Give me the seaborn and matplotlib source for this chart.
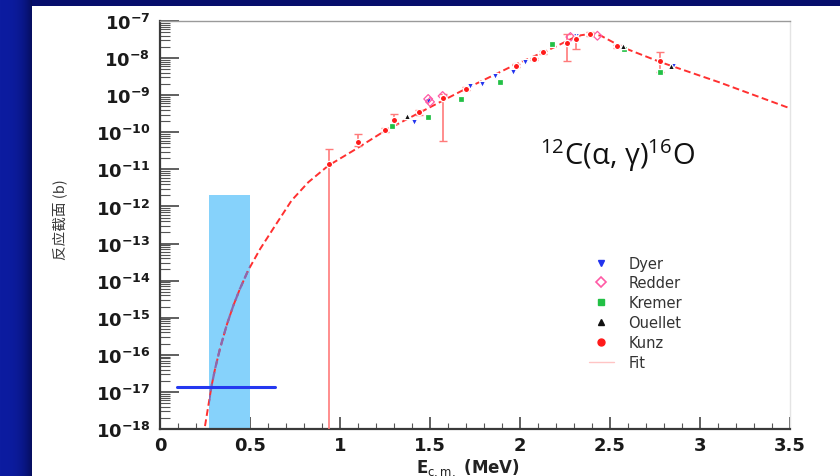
import numpy as np
import pandas as pd
import matplotlib
matplotlib.use("Agg")
import matplotlib.pyplot as plt
from matplotlib.lines import Line2D
from matplotlib.patches import Rectangle
from matplotlib.ticker import FixedLocator, MultipleLocator, NullFormatter, FuncFormatter
import seaborn as sns

# ---- fit curve (E_cm in MeV, cross section in barn) ----
fit_e = [0.25, 0.287, 0.306, 0.333, 0.37, 0.407, 0.444, 0.49, 0.556, 0.635, 0.731,
         0.824, 0.935, 1.083, 1.25, 1.406, 1.70, 1.98, 2.19, 2.32, 2.39, 2.45, 2.57,
         2.78, 3.11, 3.48, 3.50]
fit_sigma = [1.2e-18, 1.5e-17, 4.2e-17, 1.45e-16, 6.2e-16, 2.1e-15, 6.0e-15, 1.9e-14,
             7.1e-14, 2.8e-13, 1.45e-12, 4.5e-12, 1.26e-11, 3.4e-11, 1.1e-10, 2.75e-10,
             1.5e-9, 6.9e-9, 1.95e-8, 4.0e-8, 4.5e-8, 4.0e-8, 1.95e-8, 7.8e-9, 2.2e-9,
             4.8e-10, 4.5e-10]

# ---- measurements ----
dyer_e = [1.41, 1.49, 1.72, 1.79, 1.86, 1.96, 2.03, 2.12, 2.31, 2.85]
dyer_s = [1.9e-10, 6.9e-10, 1.8e-9, 2.0e-9, 3.3e-9, 4.3e-9, 7.9e-9, 1.45e-8, 4.0e-8, 6.3e-9]

redder_e = [1.49, 1.50, 1.57, 2.28, 2.43]
redder_s = [7.9e-10, 6.6e-10, 9.5e-10, 3.7e-8, 4.0e-8]

kremer_e = [1.29, 1.49, 1.67, 1.89, 2.08, 2.18, 2.58, 2.78]
kremer_s = [1.5e-10, 2.6e-10, 7.9e-10, 2.2e-9, 9.5e-9, 2.4e-8, 1.8e-8, 4.3e-9]

ouellet_e = [1.37, 1.57, 1.97, 2.31, 2.57, 2.84]
ouellet_s = [2.75e-10, 8.9e-10, 6.9e-9, 3.7e-8, 2.1e-8, 6.3e-9]

kunz_e = [0.94, 1.10, 1.25, 1.30, 1.44, 1.57, 1.70, 1.98, 2.08, 2.13, 2.26, 2.31, 2.39, 2.54, 2.78]
kunz_s = [1.4e-11, 5.5e-11, 1.15e-10, 2.2e-10, 3.5e-10, 8.5e-10, 1.5e-9, 6.3e-9, 9.5e-9,
          1.45e-8, 2.5e-8, 3.2e-8, 4.5e-8, 2.1e-8, 8.3e-9]
kunz_lo = [1e-19, 4.3e-11, 1.0e-10, 1.7e-10, 3.0e-10, 5.9e-11, 1.35e-9, 5.8e-9, 8.8e-9,
           1.3e-8, 8.3e-9, 1.8e-8, 4.0e-8, 1.9e-8, 4.3e-9]
kunz_hi = [3.5e-11, 8.9e-11, 1.3e-10, 3.2e-10, 4.0e-10, 1.07e-9, 1.65e-9, 6.8e-9, 1.02e-8,
           1.6e-8, 4.5e-8, 4.0e-8, 5.0e-8, 2.3e-8, 1.45e-8]

# Gamow window and the extrapolated value at 300 keV
gamow_lo, gamow_hi, gamow_top = 0.27, 0.50, 2.0e-12
extrap_sigma, extrap_e0, extrap_e1 = 1.35e-17, 0.095, 0.64

# axis ranges and decade ticks
e_min, e_max = 0.0, 3.5
decades = list(range(-18, -6))

series = [
    ("Dyer", dyer_e, dyer_s, dict(marker="v", color="#2233ee")),
    ("Redder", redder_e, redder_s, dict(marker="D", facecolor="none", edgecolor="#ff5aa5")),
    ("Kremer", kremer_e, kremer_s, dict(marker="s", color="#22c045")),
    ("Ouellet", ouellet_e, ouellet_s, dict(marker="^", color="#111111")),
    ("Kunz", kunz_e, kunz_s, dict(marker="o", color="#ff1a1a")),
]

sns.set_theme(style="ticks")
plt.rcParams["font.family"] = ["DejaVu Sans"]
plt.rcParams["mathtext.default"] = "regular"

W, H = 840, 477
fig = plt.figure(figsize=(W / 100, H / 100), dpi=100)

# slide background: blue frame with a white panel
bg = np.ones((H, W, 3))
bg[:7, :] = np.array([6, 14, 108]) / 255
left = np.linspace(0, 1, 32)[:, None]
c0 = np.array([12, 28, 160]) / 255
c1 = np.array([6, 14, 96]) / 255
bg[:, :32] = (c0 + (c1 - c0) * left ** 3)[None, :, :]
fig.figimage(bg, xo=0, yo=0, origin="upper", zorder=-10)

ax = fig.add_axes([160 / W, (H - 430) / H, 630 / W, 408 / H])
ax.set_zorder(5)
ax.set_facecolor("white")

ax.set_yscale("log")
ax.set_xlim(e_min, e_max)
ax.set_ylim(10.0 ** decades[0], 10.0 ** decades[-1])

# Gamow window
window = Rectangle((gamow_lo, 1e-19), gamow_hi - gamow_lo, gamow_top - 1e-19,
                   facecolor="#86d2fb", edgecolor="none", zorder=1)
ax.add_patch(window)

# fit curve (drawn red, and in a muted tone where it crosses the window)
fit_df = pd.DataFrame({"E": fit_e, "sigma": fit_sigma})
sns.lineplot(data=fit_df, x="E", y="sigma", ax=ax, color="#ff3030", lw=1.4,
             zorder=3, sort=False)
ax.lines[-1].set_dashes([3.5, 1.8])
sns.lineplot(data=fit_df, x="E", y="sigma", ax=ax, color="#8a68b0", lw=1.6,
             zorder=3.5, sort=False)
ax.lines[-1].set_dashes([3.5, 1.8])
ax.lines[-1].set_clip_path(window)

# Kunz error bars
ks = np.array(kunz_s)
ax.errorbar(kunz_e, kunz_s, yerr=[ks - np.array(kunz_lo), np.array(kunz_hi) - ks],
            fmt="none", ecolor="#ff7a7a", elinewidth=1.2, capsize=3, zorder=3)

for name, e, s, kw in series:
    df = pd.DataFrame({"E": e, "sigma": s})
    sns.scatterplot(data=df, x="E", y="sigma", ax=ax, s=20, linewidth=0.9,
                    zorder=4, legend=False, **kw)

# extrapolated value
ax.plot([extrap_e0, extrap_e1], [extrap_sigma, extrap_sigma], color="#2438f0", lw=2.2, zorder=5)

ax.set_xlim(e_min, e_max)
ax.set_ylim(10.0 ** decades[0], 10.0 ** decades[-1])

# ticks limited to the visible range
major_e = np.arange(0, 8) * 0.5
minor_e = np.arange(0, 36) * 0.1
ax.xaxis.set_major_locator(FixedLocator(major_e))
ax.xaxis.set_minor_locator(FixedLocator(minor_e))
ax.xaxis.set_major_formatter(FuncFormatter(lambda v, p: f"{v:g}"))
major_s = [10.0 ** d for d in decades]
minor_s = [m * 10.0 ** d for d in decades[:-1] for m in range(2, 10)]
ax.yaxis.set_major_locator(FixedLocator(major_s))
ax.yaxis.set_major_formatter(FuncFormatter(lambda v, p: rf"$10^{{{int(round(np.log10(v)))}}}$"))
ax.yaxis.set_minor_locator(FixedLocator(minor_s))
ax.yaxis.set_minor_formatter(NullFormatter())

ax.tick_params(axis="y", which="major", direction="in", length=14, width=1.2,
               color="#444444", labelsize=13, labelcolor="#1a1a1a", pad=7)
ax.tick_params(axis="y", which="minor", direction="in", length=7, width=0.8, color="#555555")
ax.tick_params(axis="x", which="major", direction="in", length=9, width=1.2,
               color="#444444", labelsize=13, labelcolor="#1a1a1a", pad=5)
ax.tick_params(axis="x", which="minor", direction="in", length=4, width=0.8, color="#555555")
for lab in ax.get_xticklabels() + ax.get_yticklabels():
    lab.set_fontweight("bold")

for side in ("left", "bottom"):
    ax.spines[side].set_color("#3a3a3a")
    ax.spines[side].set_linewidth(1.6)
ax.spines["top"].set_color("#9a9a9a")
ax.spines["top"].set_linewidth(1.0)
ax.spines["right"].set_color("#e4e4e4")
ax.spines["right"].set_linewidth(1.0)

ax.set_xlabel(r"E$_{\mathrm{c.m.}}$ (MeV)", fontsize=12, fontweight="bold", color="#222222")
ax.xaxis.set_label_coords(0.489, -0.066)
ax.set_ylabel("反应截面 (b)", fontsize=10.5, color="#3a3a3a",
              family=["Noto Sans CJK SC", "DejaVu Sans"])
ax.yaxis.set_label_coords(-0.148, 0.515)

ax.text(2.54, 10 ** -10.6, r"$^{12}$C(α, γ)$^{16}$O", ha="center", va="center",
        fontsize=21, color="#111111", family=["Open Sans", "DejaVu Sans"])

handles = [
    Line2D([], [], ls="none", marker="v", color="#2233ee", ms=5),
    Line2D([], [], ls="none", marker="D", mfc="none", mec="#ff5aa5", ms=5, mew=1.2),
    Line2D([], [], ls="none", marker="s", color="#22c045", ms=5),
    Line2D([], [], ls="none", marker="^", color="#111111", ms=5),
    Line2D([], [], ls="none", marker="o", color="#ff1a1a", ms=5),
    Line2D([], [], color="#ffc4c4", lw=1.0),
]
labels = [s[0] for s in series] + ["Fit"]
leg = ax.legend(handles, labels, loc="upper left", bbox_to_anchor=(0.66, 0.457),
                frameon=False, fontsize=10.5, handlelength=1.7, handletextpad=1.0,
                labelspacing=0.33, borderpad=0.4)
for t in leg.get_texts():
    t.set_color("#333333")

fig.savefig("out.png", dpi=100)
